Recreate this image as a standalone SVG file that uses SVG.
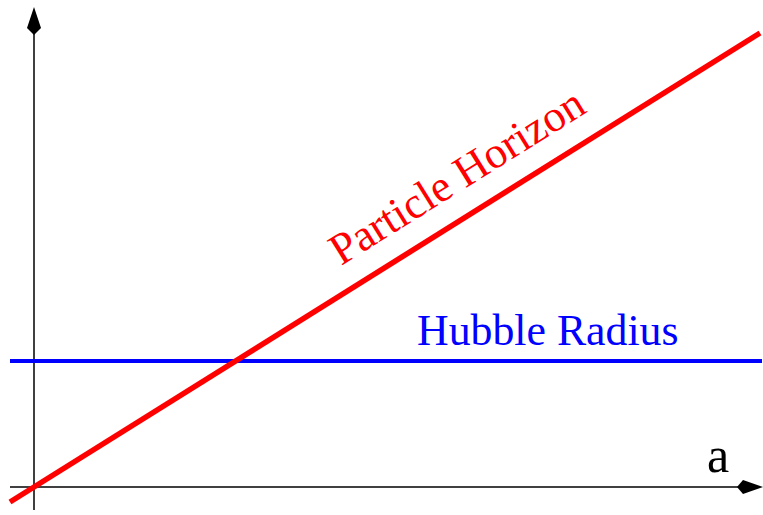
<svg xmlns="http://www.w3.org/2000/svg" width="763" height="515" viewBox="0 0 763 515">
<style>
.axis{stroke:#000;stroke-width:1.5;fill:none}
.head{fill:#000;stroke:none}
.lbl{font-family:"Liberation Serif","Times New Roman",serif}
</style>
<rect width="763" height="515" fill="#fff"/>
<g id="connectors">
<g id="y-axis">
<line class="axis" x1="34" y1="510" x2="34" y2="30"/>
<polygon class="head" points="34,7 41,28 34,35 27,28"/>
</g>
<g id="x-axis">
<line class="axis" x1="10" y1="487" x2="740" y2="487"/>
<polygon class="head" points="763,487 743,480 737,487 743,494"/>
</g>
</g>
<g id="hubble">
<line x1="10" y1="361" x2="762" y2="361" stroke="#0000ff" stroke-width="4"/>
<text class="lbl" x="417" y="345" font-size="43.8" fill="#0000ff">Hubble Radius</text>
</g>
<g id="particle">
<line x1="10" y1="502" x2="760" y2="33" stroke="#ff0000" stroke-width="5.5"/>
<text class="lbl" font-size="44.3" fill="#ff0000" transform="translate(341,266) rotate(-32)">Particle Horizon</text>
</g>
<g id="a-label">
<text class="lbl" x="707" y="472" font-size="50" fill="#000">a</text>
</g>
</svg>
